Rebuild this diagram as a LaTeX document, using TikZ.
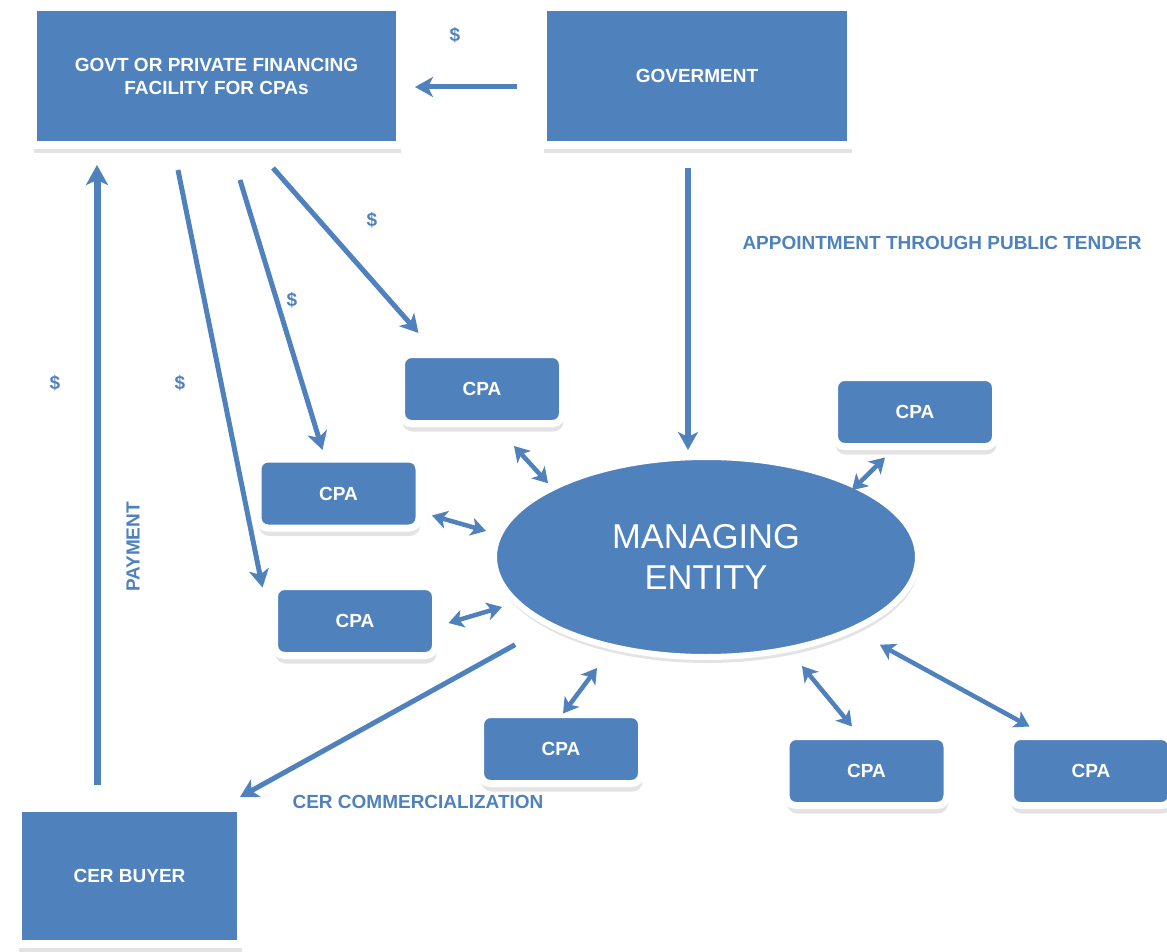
\documentclass[tikz,border=0pt]{standalone}
\usepackage{fontspec}
\setmainfont{Liberation Sans}
\usetikzlibrary{arrows.meta,shapes.geometric,shadows}
\definecolor{officeblue}{HTML}{4F81BD}
\tikzset{every node/.style={font=\fontsize{19}{23}\selectfont\bfseries, align=center, outer sep=0pt}}
\tikzset{box/.style={rectangle, fill=officeblue, draw=white, line width=8pt, text=white, inner sep=0pt, drop shadow={shadow xshift=1pt, shadow yshift=-8pt, opacity=0.22}}}
\tikzset{cpa/.style={box, rounded corners=10pt, line width=7pt, minimum width=161pt, minimum height=69pt}}
\tikzset{lbl/.style={text=officeblue, inner sep=0pt}}
\tikzset{arr/.style={draw=officeblue, line width=5pt, -{Stealth[length=18pt,width=20pt,inset=5pt]}}}
\tikzset{dbl/.style={draw=officeblue, line width=4.5pt, {Stealth[length=15pt,width=18pt,inset=4pt]}-{Stealth[length=15pt,width=18pt,inset=4pt]}}}

\begin{document}
\begin{tikzpicture}[x=1pt, y=-1pt]
  \useasboundingbox (0,0) rectangle (1167,952);

  \node (fin) [box, minimum width=367pt, minimum height=138pt] at (216.5,76) {GOVT OR PRIVATE FINANCING\\FACILITY FOR CPAs};
  \node (gov) [box, minimum width=308pt, minimum height=138pt, node distance=480.5pt, right of=fin] {GOVERMENT};
  \node (buyer) [box, minimum width=223pt, minimum height=136pt] at (129.5,876) {CER BUYER};
  \node (me) [ellipse, fill=officeblue, draw=white, line width=6pt, text=white, inner sep=0pt, minimum width=424pt, minimum height=200pt, font=\fontsize{34.5}{41}\selectfont, drop shadow={shadow xshift=1pt, shadow yshift=-6pt, opacity=0.22}] at (706,557) {MANAGING\\ENTITY};

  \node (c1) [cpa] at (482,389) {CPA};
  \node (c2) [cpa] at (338.5,493.5) {CPA};
  \node (c3) [cpa] at (355,621) {CPA};
  \node (c4) [cpa] at (915,412) {CPA};
  \node (c5) [cpa] at (561,749) {CPA};
  \node (c6) [cpa] at (866.5,771) {CPA};
  \node (c7) [cpa, node distance=224.5pt, right of=c6] {CPA};

  \node (d1) [lbl] at (455,35) {\$};
  \node (d2) [lbl] at (372,220) {\$};
  \node (d3) [lbl] at (292,300) {\$};
  \node (d4) [lbl] at (180,383) {\$};
  \node (d5) [lbl] at (55,383) {\$};
  \node (tender) [lbl] at (942,243) {APPOINTMENT THROUGH PUBLIC TENDER};
  \node (comm) [lbl] at (418,802) {CER COMMERCIALIZATION};
  \node (pay) [lbl, rotate=90] at (133,547) {PAYMENT};

  \path ([xshift=-26pt,yshift=-11pt]gov.west) edge[arr] ([xshift=15pt,yshift=-11pt]fin.east);
  \path ([xshift=-32.5pt,yshift=23pt]buyer.north) edge[arr, line width=7pt, -{Stealth[length=20pt,width=22pt,inset=5pt]}] ([xshift=-119.5pt,yshift=-20pt]fin.south);

  \path ([xshift=-38.5pt,yshift=-25pt]fin.south) edge[arr] ([xshift=-12pt,yshift=-1pt]c3.north west);
  \path ([xshift=23.5pt,yshift=-35pt]fin.south) edge[arr] ([xshift=-16pt,yshift=9pt]c2.north);
  \path ([xshift=56.5pt,yshift=-23pt]fin.south) edge[arr] ([xshift=17pt,yshift=21.5pt]c1.north west);

  \path ([xshift=-9pt,yshift=-23pt]gov.south) edge[arr, line width=6pt] ([xshift=-18pt,yshift=7pt]me.north);

  \path ([xshift=32pt,yshift=-22.5pt]c1.south) edge[dbl] ([xshift=-8pt,yshift=3pt]me.north west);
  \path ([xshift=13pt,yshift=-22pt]c2.east) edge[dbl] ([xshift=-8pt,yshift=26pt]me.west);
  \path ([xshift=13pt,yshift=-2pt]c3.east) edge[dbl] ([xshift=8pt,yshift=-50pt]me.west);
  \path ([xshift=-30pt,yshift=-11pt]c4.south) edge[dbl] ([xshift=-4pt,yshift=-4pt]me.north east);
  \path ([xshift=2pt,yshift=1pt]c5.north) edge[dbl] ([xshift=-109pt,yshift=-11pt]me.south);
  \path ([xshift=-14.5pt,yshift=10pt]c6.north) edge[dbl] ([xshift=96pt,yshift=-9pt]me.south);
  \path ([xshift=19pt,yshift=10pt]c7.north west) edge[dbl] ([xshift=24pt,yshift=-17pt]me.south east);

  \path ([xshift=-41pt,yshift=-17pt]me.south west) edge[arr] ([xshift=-1pt,yshift=11pt]buyer.north east);
\end{tikzpicture}
\end{document}
